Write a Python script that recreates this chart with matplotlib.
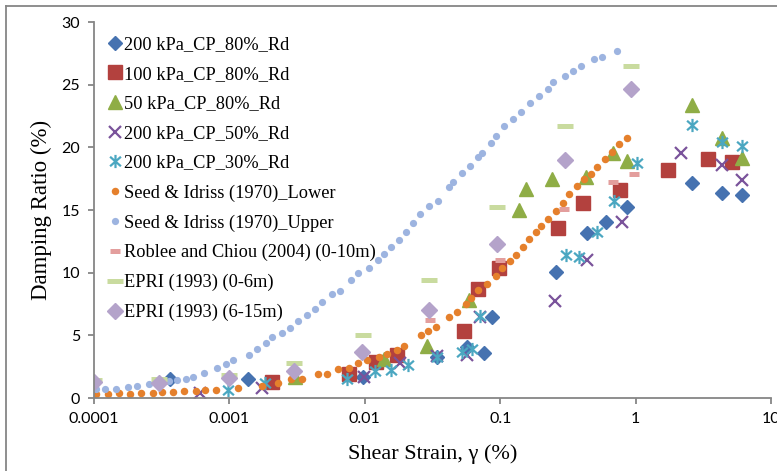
import matplotlib
matplotlib.use("Agg")
import matplotlib.pyplot as plt
from matplotlib.path import Path
from matplotlib.lines import Line2D

# ---- measured damping data: strain (%) and damping ratio (%) ----
cp200_80_strain = [3.64e-4, 1.38e-3, 9.75e-3, 3.40e-2, 5.66e-2, 7.59e-2, 8.65e-2,
                   0.257, 0.435, 0.604, 0.869, 2.60, 4.32, 6.14]
cp200_80_damp = [1.55, 1.49, 1.70, 3.30, 4.09, 3.62, 6.44,
                 10.08, 13.19, 14.07, 15.27, 17.14, 16.34, 16.2]

cp100_80_strain = [2.05e-3, 7.69e-3, 1.22e-2, 1.72e-2, 5.40e-2, 6.89e-2, 9.85e-2,
                   0.266, 0.407, 0.767, 1.73, 3.44, 5.15]
cp100_80_damp = [1.30, 1.9, 2.90, 3.43, 5.37, 8.67, 10.35,
                 13.59, 15.59, 16.6, 18.2, 19.07, 18.86]

cp50_80_strain = [3.05e-3, 1.39e-2, 2.90e-2, 5.91e-2, 0.1377, 0.154, 0.240,
                  0.428, 0.684, 0.860, 2.60, 4.32, 6.08]
cp50_80_damp = [1.70, 3.11, 4.15, 7.85, 15.0, 16.65, 17.45,
                17.66, 19.53, 18.94, 23.38, 20.73, 19.13]

cp200_50_strain = [6.06e-4, 1.75e-3, 9.8e-3, 1.82e-2, 3.40e-2, 5.71e-2, 7.10e-2,
                   0.254, 0.435, 0.789, 2.15, 4.37, 6.14]
cp200_50_damp = [0.42, 0.8, 1.65, 2.77, 3.35, 3.43, 6.49,
                 7.77, 11.01, 14.07, 19.58, 18.6, 17.4]

cp200_30_strain = [9.8e-4, 1.83e-3, 7.35e-3, 1.19e-2, 1.55e-2, 2.09e-2, 3.43e-2,
                   5.2e-2, 6.22e-2, 7.10e-2, 0.306, 0.384, 0.516, 0.692, 1.02,
                   2.60, 4.32, 6.14]
cp200_30_damp = [0.64, 1.17, 1.55, 2.15, 2.23, 2.63, 3.30,
                 3.70, 3.88, 6.54, 11.41, 11.28, 13.27, 15.72, 18.78,
                 21.79, 20.46, 20.11]

# ---- reference curves ----
seed_lower_strain = [1.03e-4, 1.27e-4, 1.53e-4, 1.85e-4, 2.21e-4, 2.72e-4, 3.19e-4,
                     3.82e-4, 4.62e-4, 5.67e-4, 6.60e-4, 7.96e-4, 1.157e-3, 1.73e-3,
                     2.30e-3, 2.87e-3, 3.42e-3, 4.51e-3, 5.23e-3, 6.36e-3, 7.64e-3,
                     8.94e-3, 1.03e-2, 1.28e-2, 1.45e-2, 1.72e-2, 1.96e-2, 2.60e-2,
                     2.93e-2, 3.33e-2, 4.19e-2, 4.80e-2, 5.59e-2, 6.11e-2, 6.89e-2,
                     7.99e-2, 9.35e-2, 0.1026, 0.118, 0.130, 0.148, 0.164, 0.184,
                     0.200, 0.224, 0.258, 0.290, 0.324, 0.371, 0.418, 0.469, 0.516,
                     0.597, 0.665, 0.759, 0.860]
seed_lower_damp = [0.28, 0.32, 0.375, 0.30, 0.42, 0.42, 0.50,
                   0.50, 0.56, 0.58, 0.64, 0.64, 0.80, 0.98,
                   1.17, 1.49, 1.48, 1.91, 1.91, 2.29, 2.37,
                   2.77, 3.00, 3.30, 3.54, 3.85, 4.17, 5.03,
                   5.32, 5.68, 6.49, 6.88, 7.53, 7.94, 8.62,
                   9.08, 9.70, 10.34, 10.92, 11.44, 12.05, 12.67, 13.21,
                   13.75, 14.29, 14.95, 15.54, 16.26, 16.94, 17.45, 17.90, 18.46,
                   19.07, 19.66, 20.25, 20.77]

seed_upper_strain = [1.03e-4, 1.21e-4, 1.45e-4, 1.78e-4, 2.09e-4, 2.55e-4, 3.02e-4,
                     3.55e-4, 4.10e-4, 4.75e-4, 5.43e-4, 6.49e-4, 8.06e-4, 9.36e-4,
                     1.06e-3, 1.39e-3, 1.59e-3, 1.85e-3, 2.07e-3, 2.43e-3, 2.80e-3,
                     3.21e-3, 3.74e-3, 4.29e-3, 4.83e-3, 5.70e-3, 6.56e-3, 7.87e-3,
                     8.91e-3, 1.07e-2, 1.25e-2, 1.39e-2, 1.55e-2, 1.79e-2, 2.00e-2,
                     2.27e-2, 2.56e-2, 2.98e-2, 3.47e-2, 4.19e-2, 4.48e-2, 5.22e-2,
                     5.98e-2, 6.86e-2, 7.30e-2, 8.55e-2, 9.31e-2, 0.1067, 0.1245,
                     0.1425, 0.166, 0.1936, 0.2244, 0.2455, 0.301, 0.343, 0.395,
                     0.493, 0.562, 0.725]
seed_upper_damp = [0.70, 0.70, 0.70, 0.84, 0.98, 1.12, 1.28,
                   1.36, 1.46, 1.52, 1.70, 2.01, 2.43, 2.75,
                   3.03, 3.43, 3.91, 4.39, 4.89, 5.19, 5.59,
                   6.17, 6.62, 7.10, 7.69, 8.30, 8.56, 9.38,
                   9.94, 10.37, 11.01, 11.49, 12.08, 12.61, 13.27,
                   13.97, 14.68, 15.35, 15.75, 16.84, 17.26, 17.96,
                   18.52, 19.23, 19.58, 20.33, 20.91, 21.71, 22.27,
                   22.83, 23.52, 24.10, 24.64, 25.24, 25.70, 26.12, 26.52,
                   27.06, 27.24, 27.69]

roblee_strain = [0.0303, 0.0997, 0.296, 0.684, 0.973]
roblee_damp = [6.22, 11.01, 15.06, 17.21, 17.85]

epri_06_strain = [0.0001, 0.0003, 0.001, 0.003, 0.0097, 0.030, 0.095, 0.30, 0.92]
epri_06_damp = [1.44, 1.49, 1.80, 2.77, 5.03, 9.40, 15.22, 21.73, 26.52]

epri_615_strain = [0.0001, 0.0003, 0.001, 0.003, 0.0095, 0.030, 0.094, 0.30, 0.92]
epri_615_damp = [1.30, 1.22, 1.57, 2.18, 3.64, 7.02, 12.29, 19.0, 24.64]

x_ticks = [0.0001, 0.001, 0.01, 0.1, 1, 10]
x_tick_labels = ["0.0001", "0.001", "0.01", "0.1", "1", "10"]
y_ticks = [0, 5, 10, 15, 20, 25, 30]

# asterisk marker: vertical bar plus a cross
asterisk = Path([(0, -1), (0, 1), (-0.82, -0.72), (0.82, 0.72), (-0.82, 0.72), (0.82, -0.72)],
                [Path.MOVETO, Path.LINETO, Path.MOVETO, Path.LINETO, Path.MOVETO, Path.LINETO])

series = [
    (cp200_80_strain, cp200_80_damp, "200 kPa_CP_80%_Rd",
     dict(marker="D", ms=7.0, color="#4672B0", mec="#4672B0")),
    (cp100_80_strain, cp100_80_damp, "100 kPa_CP_80%_Rd",
     dict(marker="s", ms=9.8, color="#B3413E", mec="#B3413E")),
    (cp50_80_strain, cp50_80_damp, "50 kPa_CP_80%_Rd",
     dict(marker="^", ms=9.5, color="#8FAD46", mec="#8FAD46")),
    (cp200_50_strain, cp200_50_damp, "200 kPa_CP_50%_Rd",
     dict(marker="x", ms=8.5, color="#7A539B", mew=1.6)),
    (cp200_30_strain, cp200_30_damp, "200 kPa_CP_30%_Rd",
     dict(marker=asterisk, ms=9.5, color="#4BA7C1", mfc="none", mew=1.6)),
    (seed_lower_strain, seed_lower_damp, "Seed & Idriss (1970)_Lower",
     dict(marker="o", ms=5.4, color="#E5802C", mec="none")),
    (seed_upper_strain, seed_upper_damp, "Seed & Idriss (1970)_Upper",
     dict(marker="o", ms=5.2, color="#9DB4E0", mec="none")),
    (roblee_strain, roblee_damp, "Roblee and Chiou (2004) (0-10m)",
     dict(marker="_", ms=6.5, color="#E39E9D", mew=3.6)),
    (epri_06_strain, epri_06_damp, "EPRI (1993) (0-6m)",
     dict(marker="_", ms=11, color="#C9DB9F", mew=3.6)),
    (epri_615_strain, epri_615_damp, "EPRI (1993) (6-15m)",
     dict(marker="D", ms=7.8, color="#B4A3CA", mec="#B4A3CA")),
]

W, H = 777, 471
fig = plt.figure(figsize=(W / 100, H / 100), dpi=100)
ax = fig.add_axes([94 / W, 1 - 398 / H, (771 - 94) / W, (398 - 22) / H])

for xs, ys, label, style in series:
    ax.plot(xs, ys, linestyle="none", label=label, **style)

ax.set_xscale("log")
ax.set_xlim(0.0001, 10)
ax.set_ylim(0, 30)
ax.set_xticks(x_ticks)
ax.set_xticklabels(x_tick_labels)
ax.set_yticks(y_ticks)
ax.minorticks_off()

axis_grey = "#868686"
for side in ("top", "right"):
    ax.spines[side].set_visible(False)
for side in ("left", "bottom"):
    ax.spines[side].set_color(axis_grey)
    ax.spines[side].set_linewidth(1.3)
ax.tick_params(axis="both", direction="out", length=4, width=1.3, color=axis_grey,
               labelsize=11.5, labelcolor="black", pad=6)
for lbl in ax.get_xticklabels() + ax.get_yticklabels():
    lbl.set_fontfamily("Lato")

serif = "Liberation Serif"
ax.set_xlabel("Shear Strain, γ (%)", fontsize=16, family=serif, labelpad=13)
ax.set_ylabel("Damping Ratio (%)", fontsize=16.5, family=serif, labelpad=7)

leg = ax.legend(loc="upper left", bbox_to_anchor=(110 / W, 1 - 36 / H),
                bbox_transform=fig.transFigure, frameon=False,
                prop=dict(family=serif, size=13.2), handlelength=0.55,
                handletextpad=0.2, labelspacing=0.69, borderaxespad=0,
                borderpad=0, numpoints=1)

# outer chart border
fig.add_artist(Line2D([6 / W, 6 / W], [0, 1 - 6 / H], transform=fig.transFigure,
                      color=axis_grey, lw=1.3))
fig.add_artist(Line2D([6 / W, 1], [1 - 6 / H, 1 - 6 / H], transform=fig.transFigure,
                      color=axis_grey, lw=1.3))

fig.savefig("out.png", dpi=100)
